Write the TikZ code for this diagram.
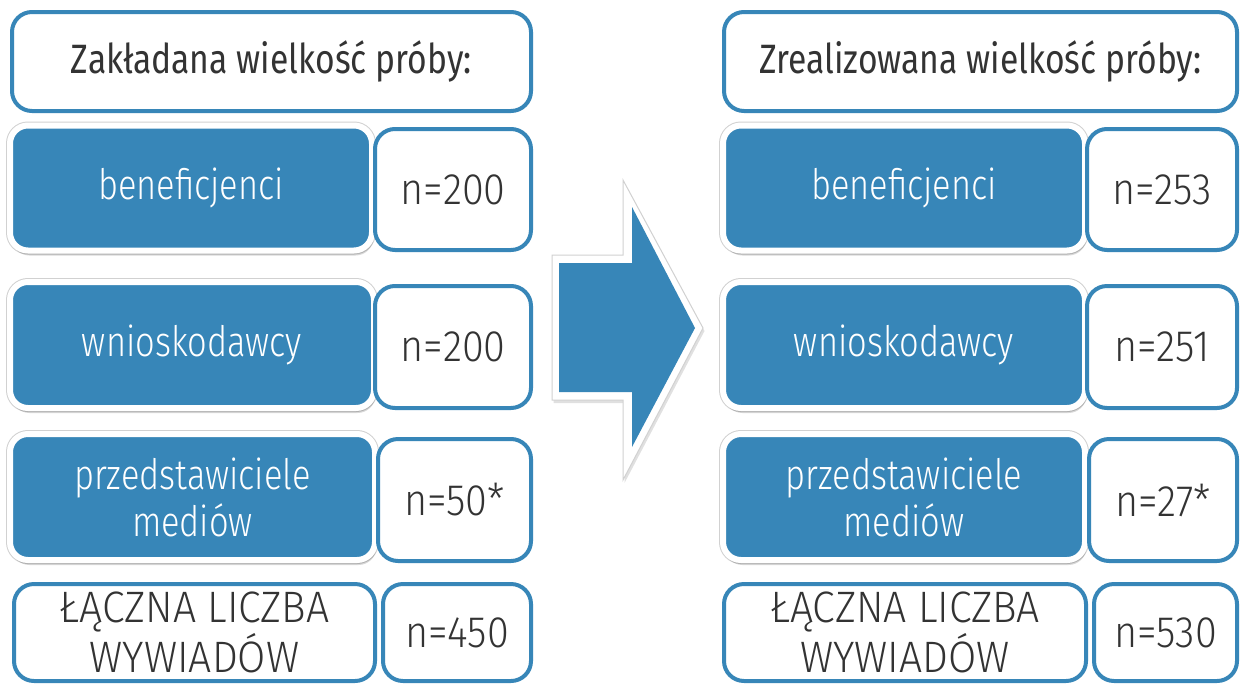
\documentclass[tikz,border=0pt]{standalone}
\usepackage{fontspec}
\setmainfont{Fira Sans}[UprightFont={* Light}, FakeStretch=0.82]
\newfontfamily\hdrfont{Fira Sans}[FakeStretch=0.82]
\newfontfamily\numfont{Fira Sans}[UprightFont={* Light}, FakeStretch=0.9]
\newfontfamily\totfont{Fira Sans}[UprightFont={* Light}, FakeStretch=0.93]
\usetikzlibrary{shadows}
\definecolor{mblue}{HTML}{3786B8}
\definecolor{mtext}{HTML}{333333}
\begin{document}
\begin{tikzpicture}[x=1pt,y=-1pt,
  hdrbox/.style={draw=mblue, line width=4pt, fill=white, rounded corners=20pt, inner sep=0pt,
    text=mtext, font=\hdrfont\fontsize{41}{48}\selectfont},
  bluebox/.style={draw=white, line width=6pt, fill=mblue, rounded corners=18pt, inner sep=0pt,
    text=white, align=center, font=\fontsize{42}{47}\selectfont,
    preaction={draw=black!18, line width=8pt},
    drop shadow={shadow xshift=1.5pt, shadow yshift=-5pt, opacity=0.15, fill=black}},
  numbox/.style={draw=mblue, line width=4pt, fill=white, rounded corners=20pt, inner sep=0pt,
    text=mtext, font=\numfont\fontsize{44}{48}\selectfont},
  totbox/.style={draw=mblue, line width=4pt, fill=white, rounded corners=20pt, inner sep=0pt,
    text=mtext, align=center, font=\totfont\fontsize{44}{40}\selectfont},
  arrowrim/.style={fill=white, draw=black!18, line width=1pt, line join=miter,
    drop shadow={shadow xshift=1.5pt, shadow yshift=-3pt, opacity=0.12, fill=black}}]
\useasboundingbox (0,0) rectangle (1241,683);
\fill[white] (0,0) rectangle (1241,683);

% left column
\node[hdrbox, minimum width=519pt, minimum height=99pt] (lh) at (271.5,61.5) {Zakładana wielkość próby:};
\node[bluebox, minimum width=362pt, minimum height=125pt] (lb1) at (191,188) {beneficjenci};
\node[numbox, minimum width=156pt, minimum height=121pt] (ln1) at (453,189.5) {n=200};
\node[bluebox, minimum width=364pt, minimum height=126pt] (lb2) at (192,345) {wnioskodawcy};
\node[numbox, minimum width=156pt, minimum height=122pt] (ln2) at (453,347) {n=200};
\node[bluebox, minimum width=365pt, minimum height=126pt] (lb3) at (192.5,497) {przedstawiciele\\mediów};
\node[numbox, minimum width=153pt, minimum height=122pt] (ln3) at (454.5,500) {n=50*};
\node[totbox, minimum width=361pt, minimum height=97pt] (lt) at (194.5,632.5) {ŁĄCZNA LICZBA\\WYWIADÓW};
\node[numbox, minimum width=148pt, minimum height=97pt] (lnt) at (457,632.5) {n=450};

% arrow
\path[arrowrim]
  (552,255) -- (623,255) -- (623,180) -- (703,328) -- (623,480) -- (623,400) -- (552,400) -- cycle;
\fill[mblue] (559,263) -- (632,263) -- (632,207) -- (695,328) -- (632,447) -- (632,392) -- (559,392) -- cycle;

% right column
\node[hdrbox, minimum width=513pt, minimum height=99pt] (rh) at (980.5,61.5) {Zrealizowana wielkość próby:};
\node[bluebox, minimum width=362pt, minimum height=125pt] (rb1) at (904,188) {beneficjenci};
\node[numbox, minimum width=150pt, minimum height=121pt] (rn1) at (1162,189.5) {n=253};
\node[bluebox, minimum width=362pt, minimum height=126pt] (rb2) at (904,345) {wnioskodawcy};
\node[numbox, minimum width=150pt, minimum height=122pt] (rn2) at (1162,347) {n=251};
\node[bluebox, minimum width=362pt, minimum height=126pt] (rb3) at (904,497) {przedstawiciele\\mediów};
\node[numbox, minimum width=148pt, minimum height=122pt] (rn3) at (1163,500) {n=27*};
\node[totbox, minimum width=362pt, minimum height=97pt] (rt) at (905,632.5) {ŁĄCZNA LICZBA\\WYWIADÓW};
\node[numbox, minimum width=143pt, minimum height=97pt] (rnt) at (1165.5,632.5) {n=530};
\end{tikzpicture}
\end{document}
